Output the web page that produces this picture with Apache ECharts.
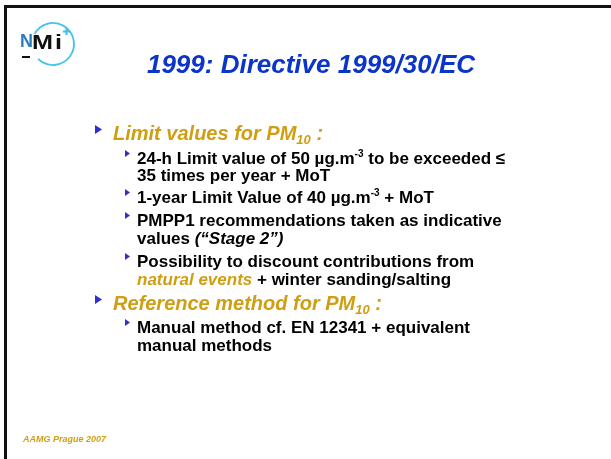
<!DOCTYPE html>
<html><head><meta charset="utf-8">
<script src="https://cdn.jsdelivr.net/npm/echarts@6/dist/echarts.min.js"></script>
<style>html,body{margin:0;padding:0;background:#fff}#c{width:611px;height:459px}</style>
</head><body><div id="c"></div>
<script>
// ---- content ----
const titleText = '1999: Directive 1999/30/EC';
const footerText = 'AAMG Prague 2007';
const logoLetters = ['N', 'M', 'i'];
const heading1 = [['h', 'Limit values for PM'], ['hs', '10'], ['h', ' :']];
const heading2 = [['h', 'Reference method for PM'], ['hs', '10'], ['h', ' :']];
const items1 = [
  [[['b', '24-h Limit value of 50 µg.m'], ['sup', '-3'], ['b', ' to be exceeded ≤']], [['b', '35 times per year + MoT']]],
  [[['b', '1-year Limit Value of 40 µg.m'], ['sup', '-3'], ['b', ' + MoT']]],
  [[['b', 'PMPP1 recommendations taken as indicative']], [['b', 'values '], ['bi', '(“Stage 2”)']]],
  [[['b', 'Possibility to discount contributions from']], [['gi', 'natural events'], ['b', ' + winter sanding/salting']]]
];
const items2 = [
  [[['b', 'Manual method cf. EN 12341 + equivalent']], [['b', 'manual methods']]]
];

// ---- layout ----
const FONT = '"Liberation Sans", Arial, Helvetica, sans-serif';
const GOLD = '#d09e12';
const BLUE = '#0b34c8';
const BUL = '#3030cc';
const SUBFS = 17, HFS = 20;
const h1Base = 141;
const items1Base = [[165, 182], [204], [227, 245], [268, 286]];
const h2Base = 311;
const items2Base = [[334, 352]];
const textX = 137, headX = 113;

const rich = {
  h: { fontFamily: FONT, fontSize: HFS, fontWeight: 'bold', fontStyle: 'italic', fill: GOLD, lineHeight: 24 },
  hs: { fontFamily: FONT, fontSize: 13, fontWeight: 'bold', fontStyle: 'italic', fill: GOLD, lineHeight: 13, verticalAlign: 'bottom' },
  b: { fontFamily: FONT, fontSize: SUBFS, fontWeight: 'bold', fill: '#000', lineHeight: 20 },
  bi: { fontFamily: FONT, fontSize: SUBFS, fontWeight: 'bold', fontStyle: 'italic', fill: '#000', lineHeight: 20 },
  gi: { fontFamily: FONT, fontSize: SUBFS, fontWeight: 'bold', fontStyle: 'italic', fill: GOLD, lineHeight: 20 },
  sup: { fontFamily: FONT, fontSize: 10, fontWeight: 'bold', fill: '#000', lineHeight: 15, verticalAlign: 'top' }
};
function richStr(segs) { return segs.map(s => '{' + s[0] + '|' + s[1] + '}').join(''); }
function lineEl(segs, x, baseline, fs) {
  return { type: 'text', silent: true, style: { text: richStr(segs), rich: rich, x: x, y: baseline - 0.31 * fs, verticalAlign: 'middle', align: 'left' } };
}
function tri(x, baseline, w, h) {
  const c = baseline - 11.5;
  return { type: 'polygon', silent: true, shape: { points: [[x, c - h / 2], [x + w, c], [x, c + h / 2]] }, style: { fill: BUL } };
}

const els = [];
// border
els.push({ type: 'rect', shape: { x: 4, y: 5, width: 3, height: 460 }, style: { fill: '#111' } });
els.push({ type: 'rect', shape: { x: 4, y: 5, width: 620, height: 3 }, style: { fill: '#111' } });
// logo
els.push({ type: 'arc', shape: { cx: 53, cy: 44, r: 21, startAngle: 209 * Math.PI / 180, endAngle: 135 * Math.PI / 180, clockwise: true }, style: { stroke: '#45c3ea', lineWidth: 1.8, fill: null } });
els.push({ type: 'text', style: { text: logoLetters[0], x: 20, y: 42, verticalAlign: 'middle', font: 'bold 18px ' + FONT, fill: '#2a7cc4' } });
els.push({ type: 'text', x: 32, y: 43, scaleX: 1.2, style: { text: logoLetters[1], x: 0, y: 0, verticalAlign: 'middle', font: 'bold 21px ' + FONT, fill: '#111' } });
els.push({ type: 'text', x: 55, y: 43, scaleX: 1.2, style: { text: logoLetters[2], x: 0, y: 0, verticalAlign: 'middle', font: 'bold 21px ' + FONT, fill: '#111' } });
els.push({ type: 'rect', shape: { x: 22, y: 56, width: 8, height: 2 }, style: { fill: '#111' } });
els.push({ type: 'line', shape: { x1: 63, y1: 31.5, x2: 70, y2: 31.5 }, style: { stroke: '#3ec0ea', lineWidth: 2 } });
els.push({ type: 'line', shape: { x1: 66.5, y1: 28, x2: 66.5, y2: 35 }, style: { stroke: '#3ec0ea', lineWidth: 2 } });
// title
els.push({ type: 'text', style: { text: titleText, x: 311, y: 74 - 0.31 * 26, align: 'center', verticalAlign: 'middle', font: 'italic bold 26px ' + FONT, fill: BLUE } });
// heading 1
els.push(tri(95, h1Base, 7, 9));
els.push(lineEl(heading1, headX, h1Base, HFS));
items1.forEach((item, i) => {
  els.push(tri(125, items1Base[i][0], 5, 7));
  item.forEach((ln, j) => els.push(lineEl(ln, textX, items1Base[i][j], SUBFS)));
});
// heading 2
els.push(tri(95, h2Base, 7, 9));
els.push(lineEl(heading2, headX, h2Base, HFS));
items2.forEach((item, i) => {
  els.push(tri(125, items2Base[i][0], 5, 7));
  item.forEach((ln, j) => els.push(lineEl(ln, textX, items2Base[i][j], SUBFS)));
});
// footer
els.push({ type: 'text', style: { text: footerText, x: 23, y: 442 - 0.31 * 9, verticalAlign: 'middle', font: 'italic bold 9px ' + FONT, fill: GOLD } });

const chart = echarts.init(document.getElementById('c'), null, { renderer: 'canvas' });
chart.setOption({ backgroundColor: '#fff', animation: false, graphic: { elements: els } });
</script>
</body></html>
